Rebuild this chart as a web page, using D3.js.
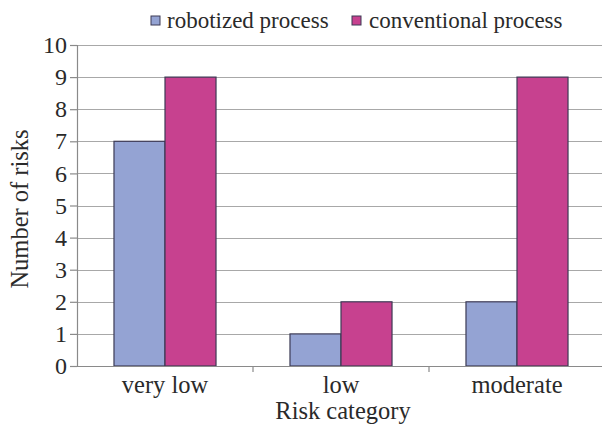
<!DOCTYPE html>
<html>
<head>
<meta charset="utf-8">
<script src="https://cdn.jsdelivr.net/npm/d3@7"></script>
<style>
  html, body { margin: 0; padding: 0; background: #fff; }
  svg { display: block; }
  svg text { font-family: "Liberation Serif", "Times New Roman", Tinos, "DejaVu Serif", serif !important; fill: #2a2a2a; }
</style>
</head>
<body>
<svg id="chart" width="602" height="429"></svg>
<script>
const categories = ["very low", "low", "moderate"];
const seriesNames = ["robotized process", "conventional process"];
const robotized = [7, 1, 2];
const conventional = [9, 2, 9];
const yTicks = [0, 1, 2, 3, 4, 5, 6, 7, 8, 9, 10];
const colors = ["#94a3d3", "#c7418f"];

const FONT = "'Liberation Serif', 'Times New Roman', Tinos, 'DejaVu Serif', serif";
const svg = d3.select("#chart").attr("font-family", FONT);
const W = 602, H = 429;
const left = 77, bandStep = 176;
const y0 = 366, yTop = 45;

const x0 = d3.scaleBand().domain(categories).range([left, left + bandStep * categories.length]).padding(0);
const x1 = d3.scaleBand().domain(seriesNames).range([0, x0.bandwidth()]).paddingInner(0).paddingOuter(0.725);
const y = d3.scaleLinear().domain([0, 10]).range([y0, yTop]);

// gridlines
svg.append("g").selectAll("line").data(yTicks.filter(d => d > 0)).join("line")
  .attr("x1", left).attr("x2", W)
  .attr("y1", d => Math.round(y(d)) + 0.5).attr("y2", d => Math.round(y(d)) + 0.5)
  .attr("stroke", "#a8a8a8").attr("stroke-width", 1.2);

// bars
const data = categories.map((c, i) => ({ cat: c, vals: [robotized[i], conventional[i]] }));
const groups = svg.append("g").selectAll("g").data(data).join("g")
  .attr("transform", d => `translate(${x0(d.cat)},0)`);
groups.selectAll("rect").data(d => d.vals.map((v, j) => ({ v, s: seriesNames[j], j }))).join("rect")
  .attr("x", d => x1(d.s))
  .attr("width", x1.bandwidth())
  .attr("y", d => y(d.v))
  .attr("height", d => y(0) - y(d.v))
  .attr("fill", d => colors[d.j])
  .attr("stroke", "#3d3a55")
  .attr("stroke-width", 1.2);

// y axis
const yAxis = d3.axisLeft(y).tickValues(yTicks).tickSize(7).tickPadding(3).tickFormat(d3.format("d"));
const gy = svg.append("g").attr("transform", `translate(${left},0)`).call(yAxis).attr("font-family", FONT);
gy.select(".domain").attr("stroke", "#8a8a8a").attr("stroke-width", 1.2);
gy.selectAll(".tick line").attr("stroke", "#8a8a8a").attr("stroke-width", 1.2);
gy.selectAll(".tick text").attr("font-size", 24).attr("fill", "#2a2a2a");

// x axis
const xAxis = d3.axisBottom(x0).tickSize(0).tickPadding(10);
const gx = svg.append("g").attr("transform", `translate(0,${y0})`).call(xAxis).attr("font-family", FONT);
gx.select(".domain").remove();
gx.append("line").attr("x1", left - 7).attr("x2", W).attr("y1", 0.5).attr("y2", 0.5)
  .attr("stroke", "#8a8a8a").attr("stroke-width", 1.2);
gx.selectAll(".tick text").attr("font-size", 24.5).attr("fill", "#2a2a2a");
// category boundary tick marks
gx.append("g").selectAll("line").data(categories.slice(1)).join("line")
  .attr("x1", d => x0(d)).attr("x2", d => x0(d))
  .attr("y1", 0).attr("y2", 6)
  .attr("stroke", "#8a8a8a").attr("stroke-width", 1.2);

// axis titles
svg.append("text").attr("x", 343).attr("y", 419).attr("text-anchor", "middle")
  .attr("font-size", 24.5).text("Risk category");
svg.append("text").attr("transform", `translate(28,209) rotate(-90)`).attr("text-anchor", "middle")
  .attr("font-size", 24.5).text("Number of risks");

// legend
const legendItems = [{ name: seriesNames[0], x: 151, tx: 167 }, { name: seriesNames[1], x: 352, tx: 369 }];
const lg = svg.append("g");
legendItems.forEach((it, i) => {
  lg.append("rect").attr("x", it.x).attr("y", 16).attr("width", 9).attr("height", 9)
    .attr("fill", colors[i]).attr("stroke", "#3d3a55").attr("stroke-width", 1);
  lg.append("text").attr("x", it.tx).attr("y", 28).attr("font-size", 23).text(it.name);
});
</script>
</body>
</html>
